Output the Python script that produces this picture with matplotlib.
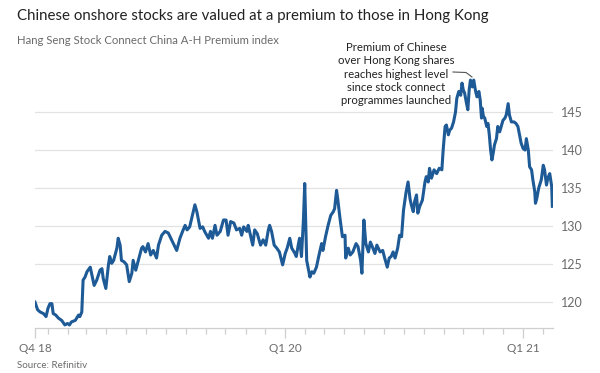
import datetime as dt
import matplotlib
matplotlib.use("Agg")
import matplotlib.pyplot as plt
import matplotlib.dates as mdates

# Hang Seng Stock Connect China A-H Premium index
start_date = dt.date(2018, 12, 12)
day_offsets = [
    0, 4, 8, 13, 17, 20, 23, 26, 28, 32, 36, 41, 46, 50, 53, 56, 62, 67, 69, 72,
    74, 77, 80, 85, 87, 91, 95, 100, 103, 105, 109, 113, 115, 118, 121, 126, 128, 131, 133, 137,
    141, 145, 149, 151, 155, 159, 164, 166, 170, 174, 178, 182, 187, 190, 195, 200, 205, 209, 213, 218,
    223, 228, 231, 234, 238, 243, 246, 249, 254, 258, 261, 267, 270, 273, 277, 280, 285, 290, 294, 297,
    301, 306, 310, 315, 318, 321, 326, 328, 332, 335, 338, 342, 347, 351, 355, 359, 361, 364, 368, 372,
    376, 381, 385, 388, 392, 395, 400, 402, 405, 407, 410, 413, 415, 418, 420, 423, 426, 429, 433, 437,
    441, 443, 447, 451, 455, 459, 461, 464, 466, 469, 473, 477, 478, 482, 485, 489, 494, 497, 501, 503,
    506, 509, 513, 516, 519, 523, 526, 531, 535, 538, 542, 545, 548, 551, 554, 558, 561, 564, 567, 571,
    574, 577, 579, 582, 584, 587, 589, 592, 596, 600, 602, 605, 607, 610, 614, 618, 622, 626, 628, 631,
    633, 636, 638, 641, 644, 647, 649, 652, 655, 657, 659, 661, 664, 666, 668, 670, 673, 675, 678, 680,
    683, 685, 687, 688, 690, 692, 695, 697, 699, 701, 703, 705, 707, 710, 712, 715, 718, 720, 723, 725,
    728, 730, 733, 737, 740, 743, 746, 748, 751, 754, 756, 759, 761, 764, 766, 769, 770, 772, 775, 779,
    782, 784, 787, 789, 792, 795, 796,
]
premium = [
    120.0, 119.0, 118.7, 118.5, 118.1, 119.2, 119.8, 119.8, 118.5, 118.3, 117.9, 117.6, 117.0, 117.2, 117.0, 117.4, 117.6, 118.3, 118.1, 118.7,
    122.9, 123.3, 124.0, 124.6, 123.8, 122.2, 122.9, 124.2, 124.4, 123.1, 121.8, 124.9, 126.0, 125.1, 125.5, 127.1, 128.4, 127.5, 125.5, 125.3,
    124.9, 122.7, 123.8, 125.5, 124.2, 125.5, 127.1, 127.3, 126.6, 127.7, 126.2, 126.8, 125.8, 127.5, 128.8, 129.3, 129.1, 128.4, 127.7, 126.8,
    128.4, 129.5, 130.1, 129.5, 129.9, 131.7, 132.8, 131.9, 129.7, 129.9, 129.3, 128.4, 129.3, 128.4, 130.1, 128.8, 129.3, 130.8, 130.8, 128.8,
    130.6, 130.4, 129.5, 129.7, 128.8, 129.9, 129.3, 130.1, 128.6, 127.5, 129.5, 129.0, 127.5, 128.2, 127.5, 129.5, 130.1, 129.3, 127.5, 127.1,
    126.6, 124.9, 126.4, 127.1, 128.4, 127.1, 126.4, 126.0, 127.5, 128.4, 126.0, 130.8, 135.6, 125.5, 124.6, 123.3, 124.0, 123.8, 124.6, 126.2,
    127.7, 126.8, 128.6, 130.1, 131.4, 131.9, 132.3, 134.7, 133.4, 131.2, 128.6, 128.8, 125.8, 127.1, 126.2, 126.6, 127.7, 127.3, 125.5, 123.8,
    130.8, 127.7, 126.6, 127.9, 127.3, 126.4, 127.5, 126.6, 126.8, 125.8, 124.6, 125.8, 126.0, 126.6, 125.8, 127.1, 128.8, 128.6, 132.1, 134.5,
    135.8, 133.6, 132.8, 131.9, 133.2, 134.1, 131.7, 132.6, 133.4, 135.8, 136.5, 135.8, 137.6, 136.3, 137.4, 136.9, 137.6, 137.4, 140.0, 143.1,
    143.3, 142.0, 142.6, 142.9, 143.7, 145.0, 146.8, 147.7, 147.2, 148.8, 147.9, 147.5, 146.1, 145.3, 147.9, 149.2, 148.3, 149.2, 147.7, 147.0,
    147.7, 146.6, 144.2, 145.5, 144.4, 144.2, 143.1, 143.5, 142.0, 140.0, 138.7, 139.6, 140.7, 141.5, 143.1, 142.4, 143.3, 143.9, 144.2, 144.6,
    146.1, 144.6, 143.7, 143.7, 143.5, 143.1, 141.8, 140.9, 140.2, 140.0, 141.5, 140.0, 137.8, 137.4, 136.1, 134.5, 133.0, 133.6, 135.0, 136.1,
    138.0, 137.4, 135.4, 136.3, 136.9, 135.2, 132.6,
]
y_ticks = [120, 125, 130, 135, 140, 145]
x_tick_dates = [start_date, dt.date(2020, 1, 1), dt.date(2021, 1, 1)]
x_tick_labels = ["Q4 18", "Q1 20", "Q1 21"]

title = "Chinese onshore stocks are valued at a premium to those in Hong Kong"
subtitle = "Hang Seng Stock Connect China A-H Premium index"
note = ("Premium of Chinese\nover Hong Kong shares\nreaches highest level\n"
        "since stock connect\nprogrammes launched")

plt.rcParams['font.family'] = ['Lato', 'DejaVu Sans']

dates = [start_date + dt.timedelta(days=d) for d in day_offsets]

W, H = 600, 373
fig = plt.figure(figsize=(6, 3.73), dpi=100, facecolor='white')

# axes box in pixel terms: x 35..553, y 74..328
ax = fig.add_axes([35 / W, (H - 328) / H, (553 - 35) / W, (328 - 74) / H])
ax.set_facecolor('white')

ax.plot(dates, premium, color='#1d5a96', lw=2.2, solid_joinstyle='round', zorder=3)

ax.set_ylim(116.6, 150)
ax.set_xlim(start_date, start_date + dt.timedelta(days=797))

# gridlines and right-hand labels
ax.set_yticks(y_ticks)
ax.yaxis.tick_right()
ax.tick_params(axis='y', length=0, pad=6, labelsize=9, labelcolor='#6b6b6b')
ax.grid(axis='y', color='#e2e2e2', lw=0.9, zorder=0)

# month ticks with quarter labels
ax.set_xticks(x_tick_dates)
ax.set_xticklabels(x_tick_labels)
ax.xaxis.set_minor_locator(mdates.MonthLocator())
ax.tick_params(axis='x', which='major', length=7, width=0.9, color='#cfcfcf',
               labelsize=8.5, labelcolor='#6b6b6b', pad=4)
ax.tick_params(axis='x', which='minor', length=4.5, width=0.9, color='#cfcfcf')

for side in ['top', 'left', 'right']:
    ax.spines[side].set_visible(False)
ax.spines['bottom'].set_color('#cfcfcf')
ax.spines['bottom'].set_linewidth(0.9)

# titles
fig.text(17 / W, 1 - 16 / H, title, fontsize=10.8, color='#222222', va='center', ha='left')
fig.text(17 / W, 1 - 41 / H, subtitle, fontsize=8.2, color='#6b6b6b', va='center', ha='left')

# annotation with connector
fig.text(396 / W, 1 - 74 / H, note, fontsize=8.2, color='#222222', ha='center', va='center',
         linespacing=1.25)
fig.add_artist(plt.Line2D([453 / W, 466 / W, 472 / W],
                          [1 - 72 / H, 1 - 72.5 / H, 1 - 77 / H],
                          color='#555555', lw=0.8))

fig.text(17 / W, 1 - 366 / H, "Source: Refinitiv", fontsize=7, color='#6b6b6b', va='center')

fig.savefig('out.png', dpi=100, facecolor='white')
